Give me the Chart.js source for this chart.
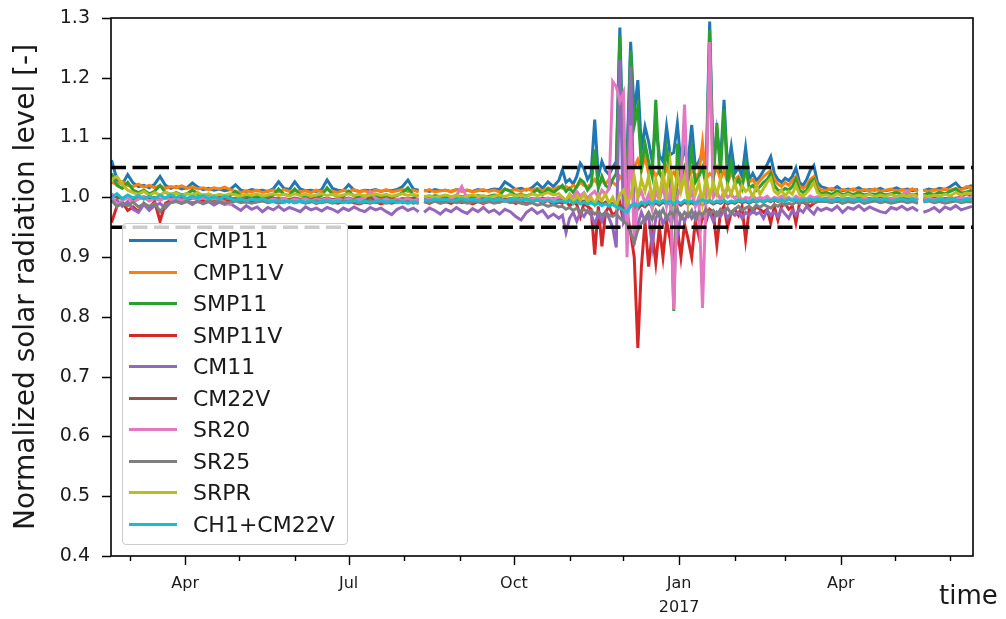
<!DOCTYPE html>
<html>
<head>
<meta charset="utf-8">
<title>Normalized solar radiation level</title>
<script src="https://cdn.jsdelivr.net/npm/chart.js@4.4.1/dist/chart.umd.min.js"></script>
<style>
  body { margin: 0; background: #fff; }
  #wrap { position: relative; width: 1006px; height: 619px; }
  #legend {
    position: absolute; left: 122px; top: 223px; width: 226px; height: 322px;
    box-sizing: border-box; border: 1px solid #cccccc; border-radius: 4px;
    background: rgba(255, 255, 255, 0.8); padding-top: 1px;
    font-family: 'DejaVu Sans', sans-serif; font-size: 22px; color: #1a1a1a;
  }
  #legend .item { display: flex; align-items: center; height: 31.5px; }
  #legend .swatch { display: inline-block; width: 48px; height: 3px; margin: 0 16px 0 6px; }
</style>
</head>
<body>
<div id="wrap">
  <canvas id="chart" width="1006" height="619"></canvas>
  <div id="legend"></div>
</div>
<script>
// --- data: day of year counted from 2016-01-01, one value per sensor ---
const days = [
  50, 53, 56, 59, 62, 65, 68, 71, 74, 77, 80, 83,
  86, 89, 92, 95, 98, 101, 104, 107, 110, 113, 116, 119,
  122, 125, 128, 131, 134, 137, 140, 143, 146, 149, 152, 155,
  158, 161, 164, 167, 170, 173, 176, 179, 182, 185, 188, 191,
  194, 197, 200, 203, 206, 209, 212, 215, 218, 221, 222,
  224, 227, 230, 233, 236, 239, 242, 245, 248, 251, 254, 257,
  260, 263, 266, 269, 272, 275, 278, 281, 284, 287, 290, 293, 296, 299,
  301, 303, 305, 307, 309, 311, 313, 315, 317, 319, 321, 323,
  325, 327, 329, 331, 333, 335, 337, 339, 341, 343, 345, 347,
  349, 351, 353, 355, 357, 359, 361, 363, 365, 367, 369, 371,
  373, 375, 377, 379, 381, 383, 385, 387, 389, 391, 393, 395,
  397, 399, 401, 403, 405, 407, 409, 411, 413, 415, 417, 419,
  421, 423, 425, 427, 429, 431, 433, 435, 437, 439, 441, 443, 445,
  448, 451, 454, 457, 460, 463, 466, 469, 472, 475, 478, 481,
  484, 487, 490, 493, 496, 499, 500,
  502, 505, 508, 511, 514, 517, 520, 523, 526, 529
];

const cmp11 = [
  1.062, 1.030, 1.022, 1.038, 1.024, 1.018, 1.020, 1.016, 1.022, 1.035, 1.020, 1.015,
  1.018, 1.014, 1.016, 1.024, 1.017, 1.013, 1.015, 1.012, 1.014, 1.011, 1.013, 1.021,
  1.012, 1.010, 1.013, 1.011, 1.012, 1.010, 1.014, 1.026, 1.015, 1.013, 1.026, 1.014,
  1.011, 1.012, 1.010, 1.013, 1.029, 1.015, 1.012, 1.011, 1.021, 1.012, 1.010, 1.012,
  1.011, 1.013, 1.010, 1.012, 1.011, 1.013, 1.018, 1.029, 1.014, 1.012, null,
  1.012, 1.010, 1.013, 1.011, 1.012, 1.010, 1.013, 1.011, 1.012, 1.010, 1.013, 1.011,
  1.012, 1.014, 1.013, 1.026, 1.020, 1.013, 1.015, 1.012, 1.016, 1.024, 1.015, 1.026, 1.018, 1.028,
  1.046, 1.025, 1.030, 1.022, 1.035, 1.057, 1.048, 1.030, 1.040, 1.130, 1.035, 1.060,
  1.045, 1.038, 1.050, 1.060, 1.284, 1.040, 1.070, 1.260, 1.138, 1.196, 1.080, 1.118,
  1.093, 1.060, 1.120, 1.070, 1.060, 1.118, 1.071, 1.075, 1.123, 1.055, 1.080, 1.060,
  1.121, 1.050, 1.060, 1.075, 1.045, 1.294, 1.050, 1.110, 1.060, 1.163, 1.045, 1.085,
  1.040, 1.050, 1.035, 1.083, 1.030, 1.040, 1.028, 1.035, 1.045, 1.055, 1.068, 1.040,
  1.030, 1.025, 1.032, 1.028, 1.035, 1.049, 1.025, 1.020, 1.030, 1.045, 1.053, 1.025, 1.018,
  1.015, 1.012, 1.018, 1.011, 1.014, 1.012, 1.016, 1.011, 1.013, 1.012, 1.015, 1.011,
  1.013, 1.016, 1.012, 1.014, 1.011, 1.013, null,
  1.011, 1.014, 1.012, 1.015, 1.013, 1.018, 1.024, 1.014, 1.016, 1.020
];

const cmp11v = [
  1.025, 1.022, 1.026, 1.020, 1.018, 1.022, 1.017, 1.020, 1.016, 1.019, 1.015, 1.018,
  1.016, 1.019, 1.015, 1.017, 1.014, 1.016, 1.013, 1.016, 1.014, 1.017, 1.013, 1.010,
  1.008, 1.011, 1.009, 1.012, 1.008, 1.010, 1.012, 1.009, 1.013, 1.010, 1.012, 1.009,
  1.011, 1.008, 1.012, 1.009, 1.013, 1.010, 1.008, 1.012, 1.010, 1.013, 1.009, 1.011,
  1.008, 1.012, 1.010, 1.013, 1.009, 1.011, 1.013, 1.010, 1.012, 1.009, null,
  1.010, 1.013, 1.009, 1.011, 1.012, 1.009, 1.013, 1.010, 1.012, 1.009, 1.011, 1.013,
  1.010, 1.012, 1.009, 1.014, 1.011, 1.013, 1.010, 1.014, 1.012, 1.015, 1.011, 1.016, 1.013, 1.018,
  1.015, 1.018, 1.014, 1.020, 1.017, 1.025, 1.020, 1.018, 1.022, 1.030, 1.020, 1.028,
  1.022, 1.030, 1.025, 1.020, 1.035, 1.028, 1.040, 1.045, 1.050, 1.063, 1.045, 1.068,
  1.040, 1.048, 1.035, 1.045, 1.030, 1.050, 1.035, 1.042, 1.030, 1.045, 1.038, 1.030,
  1.048, 1.035, 1.040, 1.091, 1.030, 1.040, 1.035, 1.050, 1.030, 1.045, 1.025, 1.040,
  1.030, 1.035, 1.022, 1.040, 1.025, 1.030, 1.020, 1.028, 1.035, 1.040, 1.045, 1.030,
  1.022, 1.018, 1.025, 1.020, 1.028, 1.035, 1.018, 1.015, 1.020, 1.030, 1.035, 1.018, 1.012,
  1.012, 1.015, 1.010, 1.013, 1.011, 1.014, 1.010, 1.013, 1.011, 1.014, 1.010, 1.012,
  1.014, 1.010, 1.013, 1.011, 1.014, 1.010, null,
  1.012, 1.010, 1.013, 1.011, 1.014, 1.012, 1.015, 1.012, 1.018, 1.016
];

const smp11 = [
  1.040, 1.020, 1.015, 1.025, 1.012, 1.008, 1.012, 1.006, 1.010, 1.020, 1.008, 1.005,
  1.008, 1.004, 1.006, 1.012, 1.006, 1.003, 1.005, 1.002, 1.004, 1.001, 1.003, 1.010,
  1.002, 1.000, 1.003, 1.001, 1.002, 1.000, 1.004, 1.014, 1.005, 1.003, 1.014, 1.004,
  1.001, 1.002, 1.000, 1.003, 1.016, 1.005, 1.002, 1.001, 1.010, 1.002, 1.000, 1.002,
  1.001, 1.003, 1.000, 1.002, 1.001, 1.003, 1.008, 1.016, 1.004, 1.002, null,
  1.002, 1.000, 1.003, 1.001, 1.002, 1.000, 1.003, 1.001, 1.002, 1.000, 1.003, 1.001,
  1.002, 1.004, 1.003, 1.014, 1.010, 1.003, 1.005, 1.002, 1.006, 1.013, 1.005, 1.014, 1.008, 1.015,
  1.020, 1.010, 1.015, 1.008, 1.018, 1.030, 1.025, 1.012, 1.020, 1.080, 1.015, 1.035,
  1.020, 1.015, 1.030, 1.040, 1.270, 1.020, 1.050, 1.246, 1.120, 1.150, 1.050, 1.090,
  1.060, 1.035, 1.163, 1.040, 1.030, 1.080, 1.040, 0.810, 1.090, 1.030, 1.050, 1.030,
  1.080, 1.025, 1.035, 1.050, 1.020, 1.280, 1.025, 1.124, 1.040, 1.147, 1.025, 1.060,
  1.020, 1.030, 1.015, 1.055, 1.015, 1.020, 1.012, 1.018, 1.025, 1.030, 1.040, 1.020,
  1.012, 1.010, 1.015, 1.012, 1.018, 1.030, 1.012, 1.008, 1.012, 1.025, 1.030, 1.012, 1.006,
  1.008, 1.005, 1.010, 1.004, 1.007, 1.005, 1.008, 1.004, 1.006, 1.005, 1.007, 1.004,
  1.006, 1.008, 1.005, 1.007, 1.004, 1.006, null,
  1.004, 1.007, 1.005, 1.008, 1.006, 1.010, 1.014, 1.007, 1.009, 1.012
];

const smp11v = [
  0.958, 0.985, 0.992, 0.978, 0.984, 0.976, 0.990, 0.983, 0.993, 0.960, 0.990, 0.995,
  0.998, 0.994, 0.997, 1.000, 0.996, 0.993, 0.996, 0.994, 0.997, 0.992, 0.995, 0.998,
  0.994, 0.992, 0.995, 0.993, 0.996, 0.992, 0.995, 0.998, 0.994, 0.992, 0.997, 0.993,
  0.991, 0.994, 0.990, 0.993, 0.997, 0.992, 0.990, 0.993, 0.995, 0.991, 0.989, 0.992,
  0.990, 0.993, 0.989, 0.992, 0.990, 0.993, 0.995, 0.998, 0.992, 0.990, null,
  0.993, 0.990, 0.994, 0.991, 0.993, 0.990, 0.994, 0.991, 0.993, 0.989, 0.993, 0.990,
  0.993, 0.995, 0.992, 0.997, 0.994, 0.990, 0.993, 0.989, 0.993, 0.996, 0.991, 0.995, 0.988, 0.992,
  0.990, 0.995, 0.985, 0.992, 0.988, 0.968, 0.990, 0.985, 0.980, 0.904, 0.985, 0.918,
  0.975, 0.985, 0.970, 0.975, 0.990, 0.960, 0.975, 0.940, 0.900, 0.748, 0.884, 0.960,
  0.884, 0.940, 0.890, 0.950, 0.900, 0.960, 0.930, 0.884, 0.950, 0.900, 0.955, 0.930,
  0.900, 0.960, 0.935, 0.970, 0.960, 0.980, 0.975, 0.920, 0.975, 0.985, 0.950, 0.975,
  0.980, 0.970, 0.985, 0.929, 0.980, 0.975, 0.985, 0.980, 0.975, 0.980, 0.957, 0.985,
  0.962, 0.985, 0.990, 0.980, 0.985, 0.957, 0.990, 0.992, 0.988, 0.985, 0.990, 0.993, 0.995,
  0.995, 0.998, 0.993, 0.997, 0.994, 0.998, 0.995, 0.997, 0.993, 0.996, 0.994, 0.997,
  0.995, 0.998, 0.994, 0.997, 0.995, 0.998, null,
  0.995, 0.997, 0.994, 0.998, 0.996, 1.000, 0.997, 1.002, 1.006, 1.004
];

const cm11 = [
  0.992, 0.996, 0.985, 0.993, 0.980, 0.975, 0.988, 0.978, 0.986, 0.990, 0.982, 0.992,
  0.995, 0.990, 0.993, 0.988, 0.994, 0.989, 0.993, 0.987, 0.992, 0.988, 0.990, 0.984,
  0.978, 0.986, 0.980, 0.984, 0.976, 0.983, 0.979, 0.985, 0.978, 0.983, 0.980, 0.976,
  0.984, 0.979, 0.982, 0.977, 0.983, 0.980, 0.975, 0.982, 0.978, 0.984, 0.979, 0.976,
  0.983, 0.979, 0.982, 0.976, 0.971, 0.980, 0.984, 0.978, 0.982, 0.976, null,
  0.975, 0.982, 0.978, 0.972, 0.980, 0.976, 0.983, 0.977, 0.973, 0.981, 0.976, 0.983,
  0.975, 0.979, 0.972, 0.980, 0.976, 0.968, 0.962, 0.975, 0.981, 0.973, 0.978, 0.966, 0.972, 0.965,
  0.970, 0.941, 0.965, 0.975, 0.960, 0.975, 0.968, 0.978, 0.970, 0.955, 0.972, 0.960,
  0.975, 0.965, 0.950, 0.916, 1.230, 0.960, 0.975, 1.219, 0.965, 0.955, 0.975, 0.960,
  0.970, 0.918, 0.965, 0.975, 0.955, 0.970, 0.960, 0.975, 0.934, 0.970, 0.960, 0.975,
  0.965, 0.975, 0.960, 0.970, 0.965, 0.975, 0.960, 0.975, 0.968, 0.978, 0.965, 0.975,
  0.970, 0.975, 0.965, 0.975, 0.970, 0.978, 0.972, 0.975, 0.965, 0.978, 0.970, 0.975,
  0.968, 0.980, 0.972, 0.965, 0.978, 0.970, 0.980, 0.975, 0.985, 0.978, 0.972, 0.982, 0.978,
  0.982, 0.978, 0.985, 0.975, 0.983, 0.980, 0.986, 0.978, 0.984, 0.980, 0.976, 0.974,
  0.983, 0.980, 0.985, 0.979, 0.983, 0.977, null,
  0.975, 0.978, 0.983, 0.976, 0.984, 0.980, 0.986, 0.979, 0.982, 0.985
];

const cm22v = [
  1.005, 1.000, 0.998, 1.002, 0.997, 0.999, 1.001, 0.998, 1.000, 0.996, 0.999, 1.001,
  0.998, 1.000, 0.997, 0.999, 1.001, 0.998, 0.999, 0.997, 1.000, 0.998, 0.999, 0.997,
  0.998, 0.996, 0.999, 0.997, 0.998, 0.996, 0.999, 0.997, 0.998, 0.996, 0.999, 0.997,
  0.998, 0.996, 0.998, 0.997, 0.999, 0.996, 0.998, 0.997, 0.999, 0.996, 0.998, 0.997,
  0.999, 0.996, 0.998, 0.997, 0.999, 0.996, 0.998, 0.997, 0.999, 0.996, null,
  0.998, 0.997, 0.999, 0.996, 0.998, 0.997, 0.999, 0.996, 0.998, 0.997, 0.999, 0.996,
  0.998, 0.997, 0.999, 0.996, 0.998, 0.997, 0.999, 0.996, 0.998, 0.997, 0.999, 0.996, 0.998, 0.997,
  0.996, 0.993, 0.997, 0.992, 0.995, 0.991, 0.994, 0.990, 0.993, 0.989, 0.993, 0.988,
  0.992, 0.987, 0.990, 0.985, 0.988, 0.982, 0.980, 0.986, 0.984, 0.980, 0.988, 0.984,
  0.990, 0.985, 0.991, 0.987, 0.992, 0.988, 0.991, 0.986, 0.990, 0.987, 0.992, 0.988,
  0.991, 0.987, 0.990, 0.988, 0.991, 0.993, 0.989, 0.992, 0.990, 0.993, 0.989, 0.992,
  0.990, 0.994, 0.991, 0.993, 0.990, 0.994, 0.992, 0.995, 0.992, 0.995, 0.993, 0.996,
  0.993, 0.996, 0.994, 0.997, 0.995, 0.997, 0.995, 0.997, 0.996, 0.998, 0.996, 0.998, 0.997,
  0.998, 0.996, 0.999, 0.997, 0.998, 0.996, 0.999, 0.997, 0.998, 0.996, 0.999, 0.997,
  0.998, 0.996, 0.999, 0.997, 0.998, 0.996, null,
  0.998, 0.997, 0.999, 0.996, 0.998, 0.997, 0.999, 0.997, 0.998, 0.999
];

const sr20 = [
  1.005, 0.985, 0.995, 1.000, 0.992, 0.997, 1.000, 0.994, 0.998, 0.995, 1.000, 0.996,
  0.999, 0.995, 0.998, 1.000, 0.996, 0.999, 0.995, 0.998, 0.996, 0.992, 0.988, 0.995,
  0.997, 0.994, 0.997, 0.995, 0.998, 0.994, 0.997, 0.995, 0.998, 0.994, 0.997, 0.995,
  0.998, 0.994, 0.997, 0.995, 0.998, 0.994, 0.997, 0.995, 0.998, 0.995, 0.997, 0.999,
  1.010, 0.998, 0.995, 0.997, 0.994, 0.997, 0.995, 0.998, 0.994, 0.997, null,
  0.995, 0.998, 0.994, 0.997, 0.995, 0.998, 1.003, 1.018, 0.998, 0.995, 0.997, 0.994,
  0.997, 0.995, 0.998, 0.994, 0.997, 0.995, 0.998, 0.994, 0.997, 0.999, 0.996, 0.999, 0.997, 1.000,
  1.000, 0.995, 1.005, 1.000, 1.010, 1.002, 1.008, 0.998, 1.005, 1.010, 1.000, 1.012,
  1.005, 1.015, 1.194, 1.185, 1.160, 1.175, 0.900, 1.120, 0.920, 1.000, 1.010, 0.990,
  1.005, 0.980, 1.010, 0.995, 1.020, 0.985, 1.010, 0.812, 1.000, 1.020, 1.155, 0.990,
  1.010, 0.985, 1.000, 0.815, 1.000, 1.260, 1.000, 1.010, 0.995, 1.010, 1.000, 1.005,
  0.998, 1.005, 0.995, 1.000, 0.998, 1.003, 0.997, 1.000, 0.998, 1.002, 0.996, 1.000,
  0.998, 1.002, 0.997, 1.000, 0.996, 1.002, 0.998, 1.000, 0.997, 1.002, 0.999, 1.001, 0.998,
  0.997, 1.000, 0.996, 0.999, 0.995, 0.998, 0.996, 0.999, 0.995, 0.998, 0.996, 0.999,
  0.997, 1.000, 1.004, 1.010, 0.998, 0.996, null,
  0.997, 0.999, 0.996, 0.998, 0.995, 0.999, 0.997, 1.000, 0.998, 1.001
];

const sr25 = [
  0.995, 0.985, 0.990, 0.986, 0.992, 0.984, 0.989, 0.985, 0.990, 0.976, 0.988, 0.991,
  0.993, 0.990, 0.994, 0.991, 0.993, 0.990, 0.994, 0.991, 0.993, 0.990, 0.992, 0.994,
  0.991, 0.993, 0.990, 0.992, 0.994, 0.991, 0.993, 0.990, 0.992, 0.994, 0.991, 0.993,
  0.990, 0.992, 0.994, 0.991, 0.993, 0.990, 0.992, 0.994, 0.991, 0.993, 0.990, 0.992,
  0.994, 0.991, 0.993, 0.990, 0.992, 0.994, 0.991, 0.993, 0.990, 0.992, null,
  0.993, 0.991, 0.994, 0.990, 0.992, 0.994, 0.991, 0.993, 0.990, 0.992, 0.994, 0.991,
  0.993, 0.990, 0.992, 0.994, 0.991, 0.993, 0.990, 0.988, 0.991, 0.987, 0.989, 0.985, 0.988, 0.984,
  0.985, 0.980, 0.983, 0.978, 0.982, 0.976, 0.980, 0.975, 0.978, 0.972, 0.976, 0.970,
  0.975, 0.970, 0.968, 0.972, 0.965, 0.960, 0.955, 0.940, 0.924, 0.945, 0.957, 0.965,
  0.975, 0.963, 0.978, 0.968, 0.980, 0.965, 0.975, 0.970, 0.980, 0.965, 0.975, 0.968,
  0.978, 0.963, 0.975, 0.970, 0.980, 0.972, 0.978, 0.970, 0.980, 0.975, 0.982, 0.972,
  0.980, 0.985, 0.978, 0.982, 0.985, 0.980, 0.987, 0.983, 0.988, 0.985, 0.982, 0.988,
  0.985, 0.990, 0.987, 0.990, 0.988, 0.992, 0.990, 0.993, 0.990, 0.993, 0.991, 0.994, 0.993,
  0.993, 0.991, 0.994, 0.990, 0.993, 0.991, 0.994, 0.990, 0.992, 0.994, 0.991, 0.993,
  0.990, 0.992, 0.994, 0.991, 0.993, 0.990, null,
  0.992, 0.994, 0.991, 0.993, 0.990, 0.992, 0.994, 0.991, 0.993, 0.992
];

const srpr = [
  1.030, 1.035, 1.022, 1.012, 1.008, 1.005, 1.010, 1.003, 1.008, 1.004, 1.009, 1.005,
  1.007, 1.003, 1.006, 1.004, 1.008, 1.003, 1.006, 1.002, 1.005, 1.003, 1.006, 1.004,
  1.002, 1.005, 1.003, 1.006, 1.002, 1.004, 1.006, 1.003, 1.005, 1.002, 1.006, 1.003,
  1.005, 1.002, 1.004, 1.006, 1.003, 1.005, 1.002, 1.004, 1.006, 1.003, 1.005, 1.002,
  1.004, 1.006, 1.003, 1.005, 1.002, 1.004, 1.006, 1.003, 1.005, 1.002, null,
  1.001, 1.003, 1.000, 1.002, 1.004, 1.001, 1.003, 1.000, 1.002, 1.004, 1.001, 1.003,
  1.000, 1.002, 1.004, 1.001, 1.005, 1.002, 1.004, 1.001, 1.006, 1.003, 1.005, 1.008, 1.004, 1.006,
  1.000, 0.995, 1.005, 0.990, 1.002, 0.995, 1.005, 0.992, 1.000, 0.988, 1.003, 0.995,
  1.005, 0.990, 1.000, 0.985, 1.005, 1.012, 0.990, 1.000, 1.035, 1.000, 1.030, 1.010,
  1.035, 0.995, 1.030, 1.000, 1.040, 1.005, 1.058, 0.995, 1.040, 1.010, 1.035, 0.990,
  1.030, 1.005, 1.025, 0.990, 1.035, 1.000, 1.025, 1.005, 1.030, 1.000, 1.020, 1.005,
  1.025, 1.000, 1.020, 1.010, 1.015, 1.000, 1.020, 1.005, 1.015, 1.025, 1.032, 1.010,
  1.005, 1.012, 1.002, 1.010, 1.005, 1.020, 1.005, 1.002, 1.008, 1.015, 1.025, 1.008, 1.003,
  1.004, 1.001, 1.006, 1.002, 1.005, 1.001, 1.004, 1.002, 1.005, 1.001, 1.004, 1.002,
  1.005, 1.001, 1.004, 1.002, 1.005, 1.001, null,
  1.003, 1.001, 1.004, 1.002, 1.005, 1.003, 1.008, 1.004, 1.007, 1.006
];

const ch1cm22v = [
  1.000, 1.006, 0.998, 1.004, 0.999, 1.003, 0.997, 1.002, 0.998, 1.003, 0.999, 1.004,
  1.000, 1.003, 0.998, 1.002, 0.999, 1.003, 0.998, 1.001, 0.997, 1.002, 0.998, 0.995,
  0.997, 0.994, 0.997, 0.995, 0.998, 0.994, 0.993, 0.995, 0.992, 0.994, 0.991, 0.994,
  0.992, 0.995, 0.991, 0.993, 0.995, 0.992, 0.994, 0.991, 0.993, 0.995, 0.992, 0.994,
  0.991, 0.993, 0.995, 0.992, 0.994, 0.991, 0.993, 0.990, 0.993, 0.991, null,
  0.996, 0.994, 0.997, 0.995, 0.997, 0.994, 0.996, 0.998, 0.995, 0.997, 0.994, 0.996,
  0.998, 0.995, 0.997, 0.994, 0.996, 0.998, 0.995, 0.997, 0.994, 0.996, 0.993, 0.995, 0.992, 0.994,
  0.994, 0.991, 0.995, 0.990, 0.993, 0.989, 0.992, 0.988, 0.991, 0.987, 0.990, 0.986,
  0.989, 0.985, 0.988, 0.984, 0.982, 0.978, 0.975, 0.985, 0.990, 0.986, 0.992, 0.988,
  0.993, 0.989, 0.994, 0.990, 0.995, 0.991, 0.994, 0.989, 0.993, 0.990, 0.995, 0.991,
  0.994, 0.990, 0.993, 0.996, 0.992, 0.995, 0.991, 0.994, 0.992, 0.995, 0.991, 0.994,
  0.992, 0.996, 0.993, 0.995, 0.992, 0.996, 0.993, 0.995, 0.993, 0.996, 0.994, 0.997,
  0.994, 0.996, 0.993, 0.997, 0.995, 0.997, 0.994, 0.996, 0.995, 0.997, 0.995, 0.997, 0.996,
  0.996, 0.994, 0.997, 0.995, 0.998, 0.995, 0.997, 0.994, 0.996, 0.998, 0.995, 0.997,
  0.994, 0.996, 0.998, 0.995, 0.997, 0.994, null,
  0.993, 0.996, 0.994, 0.997, 0.995, 0.998, 0.996, 0.994, 0.997, 0.995
];

const names = ['CMP11', 'CMP11V', 'SMP11', 'SMP11V', 'CM11', 'CM22V', 'SR20', 'SR25', 'SRPR', 'CH1+CM22V'];
const series = [cmp11, cmp11v, smp11, smp11v, cm11, cm22v, sr20, sr25, srpr, ch1cm22v];
const colors = ['#1f77b4', '#ff7f0e', '#2ca02c', '#d62728', '#9467bd', '#8c564b', '#e377c2', '#7f7f7f', '#bcbd22', '#17becf'];

// tolerance band
const bandLevels = [1.05, 0.95];

// month ticks (first of each month, same day count) and their labels
const monthStarts = [60, 91, 121, 152, 182, 213, 244, 274, 305, 335, 366, 397, 425, 456, 486, 517];
const monthLabels = ['', 'Apr', '', '', 'Jul', '', '', 'Oct', '', '', ['Jan', '2017'], '', '', 'Apr', '', ''];
const yTicks = [0.4, 0.5, 0.6, 0.7, 0.8, 0.9, 1.0, 1.1, 1.2, 1.3];

const xMin = 49.7, xMax = 529.6;
const font = "'DejaVu Sans', sans-serif";

const datasets = series.map((vals, i) => ({
  label: names[i],
  data: days.map((d, k) => ({ x: d, y: vals[k] })),
  borderColor: colors[i],
  borderWidth: 3,
  pointRadius: 0,
  tension: 0,
  spanGaps: false,
  order: names.length - i
}));

bandLevels.forEach(level => {
  datasets.push({
    label: 'band ' + level,
    data: [{ x: xMin, y: level }, { x: xMax, y: level }],
    borderColor: '#000',
    borderWidth: 3.4,
    borderDash: [15, 6.5],
    pointRadius: 0,
    order: 0
  });
});

// frame, tick marks and axis titles
const axesDecor = {
  id: 'axesDecor',
  afterDraw(chart) {
    const { ctx, chartArea: a, scales: { x, y } } = chart;
    ctx.save();
    ctx.strokeStyle = '#000';
    ctx.lineWidth = 1.6;
    ctx.strokeRect(a.left, a.top, a.right - a.left, a.bottom - a.top);

    ctx.lineWidth = 1.4;
    ctx.beginPath();
    monthStarts.forEach((d, i) => {
      const px = Math.round(x.getPixelForValue(d)) + 0.5;
      const len = monthLabels[i] ? 9 : 5;
      ctx.moveTo(px, a.bottom);
      ctx.lineTo(px, a.bottom + len);
    });
    yTicks.forEach(v => {
      const py = Math.round(y.getPixelForValue(v)) + 0.5;
      ctx.moveTo(a.left - 9, py);
      ctx.lineTo(a.left, py);
    });
    ctx.stroke();

    ctx.fillStyle = '#1a1a1a';
    ctx.font = '28px ' + font;
    ctx.textAlign = 'center';
    ctx.textBaseline = 'middle';
    ctx.translate(27, (a.top + a.bottom) / 2);
    ctx.rotate(-Math.PI / 2);
    ctx.fillText('Normalized solar radiation level [-]', 0, 0);
    ctx.restore();

    ctx.save();
    ctx.fillStyle = '#1a1a1a';
    ctx.font = '26px ' + font;
    ctx.textAlign = 'left';
    ctx.textBaseline = 'middle';
    ctx.fillText('time', 939, 597);
    ctx.restore();
  }
};

new Chart(document.getElementById('chart'), {
  type: 'line',
  data: { datasets },
  options: {
    responsive: false,
    animation: false,
    devicePixelRatio: 1,
    layout: { padding: { top: 18, right: 33, left: 0, bottom: 0 } },
    plugins: { legend: { display: false }, tooltip: { enabled: false } },
    scales: {
      x: {
        type: 'linear',
        min: xMin,
        max: xMax,
        grid: { display: false, drawTicks: false },
        border: { display: false },
        afterFit: s => {
          s.height = 63;
          s.paddingLeft = 0;
          s.paddingRight = 0;
        },
        afterBuildTicks: s => { s.ticks = monthStarts.map(v => ({ value: v })); },
        ticks: {
          autoSkip: false,
          maxRotation: 0,
          padding: 16,
          color: '#1a1a1a',
          font: { family: font, size: 16, lineHeight: 1.5 },
          callback: (v, i) => monthLabels[i]
        }
      },
      y: {
        min: 0.4,
        max: 1.3,
        grid: { display: false, drawTicks: false },
        border: { display: false },
        afterFit: s => {
          s.width = 111;
          s.paddingTop = 0;
          s.paddingBottom = 0;
        },
        afterBuildTicks: s => { s.ticks = yTicks.map(v => ({ value: v })); },
        ticks: {
          padding: 21,
          color: '#1a1a1a',
          font: { family: font, size: 19 },
          callback: v => v.toFixed(1)
        }
      }
    }
  },
  plugins: [axesDecor]
});

// legend box inside the axes
const legendEl = document.getElementById('legend');
names.forEach((name, i) => {
  const row = document.createElement('div');
  row.className = 'item';
  const sw = document.createElement('span');
  sw.className = 'swatch';
  sw.style.background = colors[i];
  row.appendChild(sw);
  row.appendChild(document.createTextNode(name));
  legendEl.appendChild(row);
});
</script>
</body>
</html>
